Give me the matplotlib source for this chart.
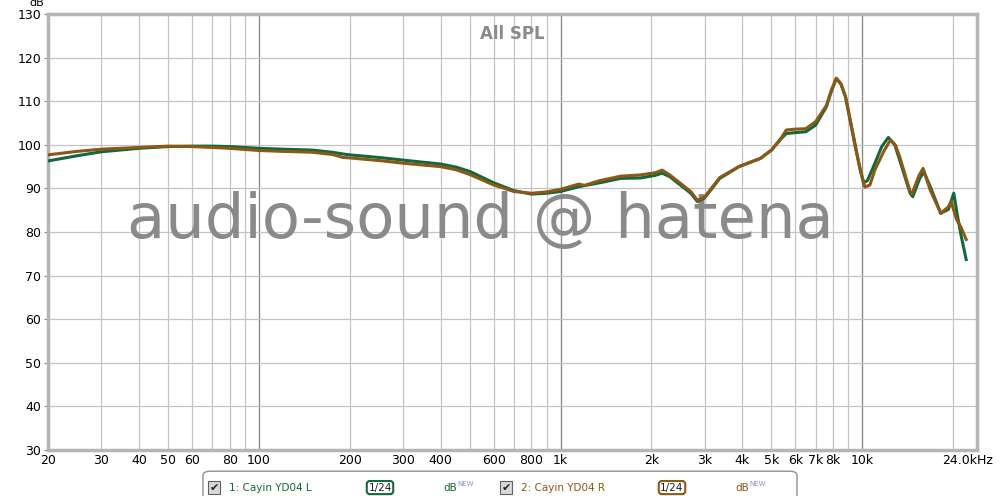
import matplotlib.pyplot as plt
from matplotlib.patches import FancyBboxPatch, Rectangle
import numpy as np

# ---- data ----
freq_L = [20, 25, 30, 40, 50, 60, 70, 80, 100, 120, 150, 175, 190, 200, 250, 300,
          400, 450, 500, 600, 700, 800, 900, 1000, 1150, 1350, 1580, 1840, 2060,
          2170, 2300, 2700, 2840, 3000, 3370, 3900, 4600, 5000, 5400, 5600, 6000,
          6500, 7000, 7600, 7900, 8200, 8500, 8800, 9500, 9800, 10100, 10400, 11000,
          11600, 12200, 12800, 13300, 14400, 14700, 15500, 16000, 16800, 18200,
          19300, 20100, 20700, 21300, 22100]
spl_L = [96.3, 97.5, 98.4, 99.2, 99.6, 99.7, 99.7, 99.6, 99.2, 99.0, 98.8, 98.3,
         97.9, 97.7, 97.1, 96.5, 95.6, 94.9, 93.9, 91.3, 89.5, 88.7, 88.9, 89.3,
         90.4, 91.3, 92.3, 92.4, 93.0, 93.5, 92.7, 88.9, 87.0, 87.8, 92.3, 95.0,
         96.9, 98.8, 101.5, 102.6, 102.8, 103.0, 104.5, 108.7, 112.3, 115.2, 113.9,
         111.0, 99.6, 94.8, 91.3, 91.8, 95.7, 99.6, 101.7, 100.1, 96.5, 88.9, 88.1,
         92.3, 93.8, 90.4, 84.3, 85.2, 88.9, 83.5, 78.9, 73.7]

freq_R = [20, 25, 30, 40, 50, 60, 70, 80, 100, 120, 150, 175, 190, 200, 250, 300,
          400, 450, 500, 600, 700, 800, 900, 1000, 1150, 1200, 1350, 1580, 1840,
          2060, 2170, 2300, 2700, 2840, 3000, 3370, 3900, 4600, 5000, 5400, 5600,
          6000, 6500, 7000, 7600, 7900, 8200, 8500, 8800, 9500, 9900, 10200, 10600,
          11000, 11800, 12400, 12900, 13300, 14400, 14600, 15400, 15900, 16800,
          18200, 19300, 19700, 20500, 21200, 22100]
spl_R = [97.7, 98.5, 99.0, 99.4, 99.7, 99.6, 99.4, 99.2, 98.7, 98.5, 98.3, 97.8,
         97.1, 97.0, 96.4, 95.8, 95.0, 94.3, 93.2, 90.8, 89.3, 88.9, 89.2, 89.8,
         91.0, 90.7, 91.8, 92.8, 93.1, 93.6, 94.2, 93.1, 89.3, 87.3, 88.0, 92.5,
         95.0, 96.9, 98.8, 101.7, 103.4, 103.6, 103.7, 105.3, 109.0, 112.6, 115.3,
         114.0, 111.0, 99.2, 93.6, 90.3, 90.8, 94.2, 98.6, 101.1, 99.8, 97.3, 89.3,
         88.7, 92.9, 94.6, 89.6, 84.3, 85.8, 87.0, 83.0, 81.2, 78.3]

xtick_vals = [20, 30, 40, 50, 60, 80, 100, 200, 300, 400, 600, 800, 1000, 2000,
              3000, 4000, 5000, 6000, 7000, 8000, 10000, 24000]
xtick_labels = ['20', '30', '40', '50', '60', '80', '100', '200', '300', '400',
                '600', '800', '1k', '2k', '3k', '4k', '5k', '6k', '7k', '8k',
                '10k', '24.0kHz']
ytick_vals = [30, 40, 50, 60, 70, 80, 90, 100, 110, 120, 130]

green = '#13673a'
brown = '#8a5817'

fig = plt.figure(figsize=(10, 4.96), dpi=100)
ax = fig.add_axes([0.048, 0.0927, 0.929, 0.879])
ax.set_xscale('log')
ax.set_xlim(20, 24000)
ax.set_ylim(30, 130)

# grid lines: every 1..9 per decade, decades darker
for dec in [10, 100, 1000, 10000]:
    for m in range(1, 10):
        f = dec * m
        if 20 < f < 24000:
            if m == 1:
                ax.axvline(f, color='#8c8c8c', lw=1.0, zorder=1)
            else:
                ax.axvline(f, color='#c4c4c4', lw=0.9, zorder=1)
for v in ytick_vals[1:-1]:
    ax.axhline(v, color='#c4c4c4', lw=0.9, zorder=1)

ax.plot(freq_L, spl_L, color=green, lw=2.2, zorder=3)
ax.plot(freq_R, spl_R, color=brown, lw=2.2, zorder=4)

ax.set_xticks(xtick_vals)
ax.set_xticklabels(xtick_labels)
ax.xaxis.set_minor_locator(plt.NullLocator())
ax.set_yticks(ytick_vals)
ax.tick_params(axis='both', labelsize=9, length=3, color='#888888', pad=2)
ax.tick_params(axis='x', length=0, pad=3)
last = ax.get_xticklabels()[-1]
last.set_horizontalalignment('right')
last.set_x(1.0)
from matplotlib.transforms import ScaledTranslation
last.set_transform(last.get_transform() + ScaledTranslation(0.16, 0, fig.dpi_scale_trans))
for s in ax.spines.values():
    s.set_color('#b5b5b5')
    s.set_linewidth(2.5)

fig.text(0.029, 1.004, 'dB', fontsize=8, ha='left', va='top')
ax.text(0.5, 0.975, 'All SPL', transform=ax.transAxes, ha='center', va='top',
        fontsize=12, fontweight='bold', color='#8a8a8a')

# watermark
ax.text(0.465, 0.525, 'audio-sound @ hatena', transform=ax.transAxes, ha='center',
        va='center', fontsize=45, color='#8a8a8a', family='DejaVu Sans', zorder=2)

# legend bar at bottom
lg = FancyBboxPatch((0.203, -0.02), 0.594, 0.07, boxstyle='round,pad=0,rounding_size=0.008',
                    transform=fig.transFigure, facecolor='white', edgecolor='#909090',
                    lw=1.0, figure=fig)
fig.patches.append(lg)

def legend_entry(x0, label, col):
    fig.patches.append(Rectangle((x0, 0.0045), 0.012, 0.026, transform=fig.transFigure,
                                 facecolor='#d8d8d8', edgecolor='#606060', lw=0.8, figure=fig))
    fig.text(x0 + 0.006, 0.017, '\u2714', fontsize=8, ha='center', va='center', color='#202020')
    fig.text(x0 + 0.021, 0.017, label, fontsize=7.5, ha='left', va='center', color=col)
    fig.text(x0 + 0.172, 0.017, '1/24', fontsize=7.5, ha='center', va='center', color='#202020',
             bbox=dict(boxstyle='round,pad=0.15,rounding_size=0.3', fc='white', ec=col, lw=1.5))
    fig.lines.append(plt.Line2D([x0 + 0.153, x0 + 0.191], [0.017, 0.017],
                                transform=fig.transFigure, color=col, lw=1.5, zorder=0))
    fig.text(x0 + 0.235, 0.017, 'dB', fontsize=7.5, ha='left', va='center', color=col)
    fig.text(x0 + 0.249, 0.024, 'NEW', fontsize=5, ha='left', va='center', color='#9090d0')

legend_entry(0.208, '1: Cayin YD04 L', green)
legend_entry(0.500, '2: Cayin YD04 R', brown)

fig.savefig('out.png', dpi=100)
